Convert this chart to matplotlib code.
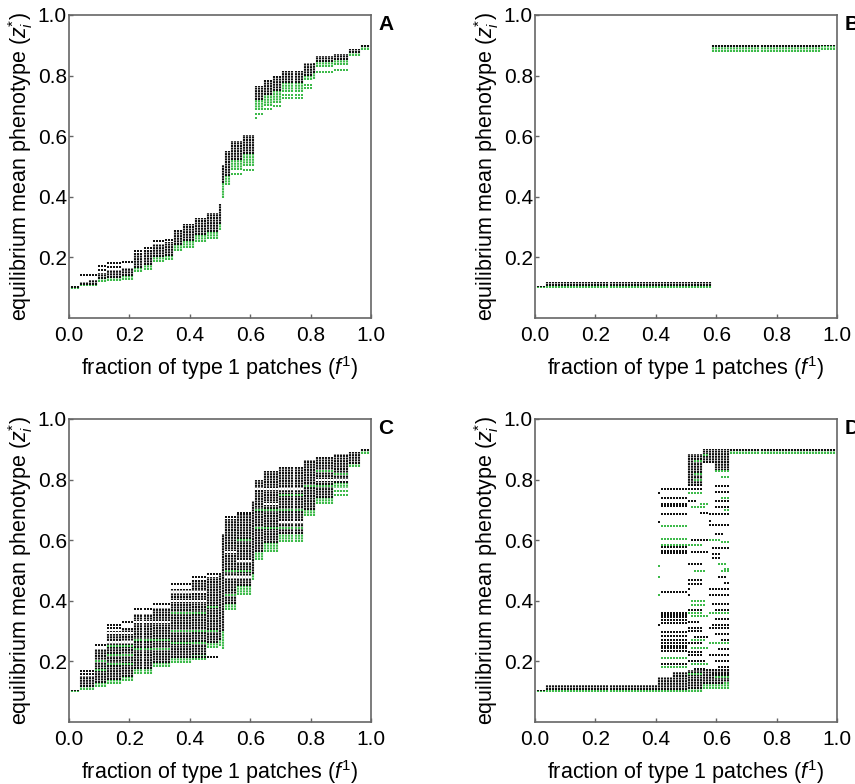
import numpy as np
import matplotlib
matplotlib.use("Agg")
import matplotlib.pyplot as plt

plt.rcParams['font.family'] = ['Liberation Sans', 'DejaVu Sans']
plt.rcParams['mathtext.fontset'] = 'custom'
plt.rcParams['mathtext.rm'] = 'Liberation Sans'
plt.rcParams['mathtext.it'] = 'Liberation Sans:italic'

BLACK = '#111111'
GREEN = '#3dba4a'
WHITE = '#ffffff'

# x categories: fraction of type 1 patches
F1 = np.round(np.arange(1, 100) / 100, 2)

# ---------------- Panel A ----------------
A_x0 = [0.01, 0.04, 0.07, 0.10, 0.13, 0.18, 0.22, 0.25, 0.28, 0.32, 0.35, 0.38, 0.42, 0.46, 0.50, 0.51, 0.52, 0.54, 0.58, 0.62, 0.65, 0.68, 0.71, 0.78, 0.81, 0.82, 0.88, 0.93, 0.97]
A_x1 = [0.03, 0.06, 0.09, 0.12, 0.17, 0.21, 0.24, 0.27, 0.31, 0.34, 0.37, 0.41, 0.45, 0.49, 0.50, 0.51, 0.53, 0.57, 0.61, 0.64, 0.67, 0.70, 0.77, 0.80, 0.81, 0.87, 0.92, 0.96, 0.99]
A_blo = [0.100, 0.108, 0.110, 0.128, 0.132, 0.138, 0.165, 0.175, 0.200, 0.205, 0.240, 0.255, 0.275, 0.285, 0.310, 0.445, 0.470, 0.520, 0.540, 0.720, 0.735, 0.750, 0.775, 0.800, 0.810, 0.845, 0.850, 0.875, 0.893]
A_bhi = [0.106, 0.118, 0.127, 0.150, 0.160, 0.165, 0.215, 0.225, 0.245, 0.250, 0.290, 0.310, 0.330, 0.345, 0.375, 0.505, 0.550, 0.585, 0.605, 0.765, 0.785, 0.800, 0.815, 0.840, 0.840, 0.865, 0.872, 0.887, 0.902]
A_glo = [0.097, 0.104, 0.106, 0.118, 0.122, 0.125, 0.152, 0.160, 0.185, 0.190, 0.220, 0.230, 0.250, 0.260, 0.290, 0.395, 0.440, 0.490, 0.500, 0.685, 0.700, 0.710, 0.745, 0.785, 0.790, 0.830, 0.835, 0.865, 0.885]
A_ghi = [0.101, 0.108, 0.111, 0.128, 0.132, 0.138, 0.168, 0.178, 0.200, 0.205, 0.240, 0.255, 0.275, 0.285, 0.310, 0.445, 0.470, 0.520, 0.540, 0.720, 0.735, 0.750, 0.775, 0.800, 0.810, 0.845, 0.850, 0.875, 0.893]
A_row_x0 = [0.04, 0.10, 0.10, 0.13, 0.13, 0.18, 0.22, 0.25, 0.28, 0.32, 0.54, 0.58, 0.62, 0.62, 0.65, 0.68, 0.71, 0.71, 0.78, 0.78, 0.82, 0.88]
A_row_x1 = [0.09, 0.12, 0.12, 0.17, 0.17, 0.21, 0.24, 0.27, 0.31, 0.34, 0.57, 0.61, 0.64, 0.62, 0.67, 0.70, 0.77, 0.77, 0.80, 0.80, 0.87, 0.92]
A_row_y = [0.141, 0.172, 0.158, 0.180, 0.168, 0.184, 0.222, 0.232, 0.255, 0.258, 0.475, 0.490, 0.672, 0.660, 0.690, 0.700, 0.735, 0.725, 0.770, 0.760, 0.812, 0.818]
A_row_c = ['k', 'k', 'k', 'k', 'k', 'k', 'k', 'k', 'k', 'k', 'g', 'g', 'g', 'g', 'g', 'g', 'g', 'g', 'g', 'g', 'g', 'g']

# ---------------- Panel B ----------------
B_x0 = [0.01, 0.04, 0.59, 0.95]
B_x1 = [0.03, 0.58, 0.94, 0.99]
B_blo = [0.101, 0.106, 0.896, 0.897]
B_bhi = [0.106, 0.120, 0.902, 0.902]
B_glo = [0.098, 0.099, 0.878, 0.886]
B_ghi = [0.101, 0.106, 0.896, 0.897]
B_row_x0, B_row_x1, B_row_y, B_row_c = [], [], [], []

# ---------------- Panel C ----------------
C_x0 = [0.01, 0.04, 0.09, 0.13, 0.18, 0.22, 0.28, 0.34, 0.41, 0.46, 0.50, 0.51, 0.52, 0.56, 0.61, 0.62, 0.65, 0.70, 0.78, 0.82, 0.88, 0.93, 0.97]
C_x1 = [0.03, 0.08, 0.12, 0.17, 0.21, 0.27, 0.33, 0.40, 0.45, 0.49, 0.50, 0.51, 0.55, 0.60, 0.61, 0.64, 0.69, 0.77, 0.81, 0.87, 0.92, 0.96, 0.99]
C_blo = [0.101, 0.115, 0.130, 0.140, 0.150, 0.175, 0.195, 0.210, 0.220, 0.260, 0.270, 0.300, 0.390, 0.450, 0.490, 0.560, 0.590, 0.620, 0.700, 0.740, 0.790, 0.850, 0.893]
C_bhi = [0.106, 0.152, 0.240, 0.300, 0.310, 0.355, 0.375, 0.440, 0.470, 0.480, 0.490, 0.620, 0.670, 0.685, 0.730, 0.800, 0.830, 0.840, 0.865, 0.875, 0.885, 0.890, 0.900]
C_glo = [0.098, 0.105, 0.115, 0.125, 0.135, 0.160, 0.180, 0.195, 0.205, 0.245, 0.250, 0.240, 0.370, 0.420, 0.470, 0.535, 0.560, 0.595, 0.680, 0.720, 0.760, 0.840, 0.885]
C_ghi = [0.101, 0.115, 0.130, 0.140, 0.150, 0.175, 0.195, 0.210, 0.220, 0.260, 0.270, 0.300, 0.390, 0.450, 0.490, 0.560, 0.590, 0.620, 0.700, 0.740, 0.790, 0.850, 0.893]
C_row_x0 = [0.04, 0.04, 0.09, 0.13, 0.13, 0.18, 0.22, 0.28, 0.34, 0.41, 0.46, 0.41, 0.52, 0.56,
            0.09, 0.09, 0.13, 0.13, 0.13, 0.22, 0.22, 0.34, 0.34, 0.34, 0.46, 0.46, 0.52, 0.52, 0.56, 0.62, 0.62, 0.70, 0.78, 0.82, 0.88, 0.88,
            0.13, 0.13, 0.22, 0.34, 0.34, 0.52, 0.52, 0.56, 0.62, 0.65, 0.70, 0.82, 0.88]
C_row_x1 = [0.08, 0.08, 0.12, 0.17, 0.17, 0.21, 0.27, 0.33, 0.40, 0.45, 0.50, 0.49, 0.55, 0.60,
            0.12, 0.12, 0.21, 0.21, 0.21, 0.33, 0.33, 0.45, 0.45, 0.45, 0.49, 0.49, 0.55, 0.60, 0.60, 0.77, 0.77, 0.77, 0.87, 0.87, 0.92, 0.92,
            0.21, 0.21, 0.33, 0.45, 0.45, 0.55, 0.60, 0.60, 0.77, 0.69, 0.77, 0.92, 0.92]
C_row_y = [0.168, 0.158, 0.255, 0.310, 0.320, 0.330, 0.372, 0.390, 0.455, 0.478, 0.487, 0.215, 0.675, 0.690,
           0.200, 0.170, 0.250, 0.220, 0.190, 0.270, 0.240, 0.300, 0.260, 0.360, 0.300, 0.380, 0.420, 0.500, 0.600, 0.640, 0.700, 0.750, 0.780, 0.830, 0.750, 0.820,
           0.295, 0.265, 0.330, 0.430, 0.400, 0.560, 0.480, 0.530, 0.770, 0.720, 0.660, 0.800, 0.770]
C_row_c = ['k'] * 14 + ['g'] * 22 + ['w'] * 13

# ---------------- Panel D ----------------
D_x0 = [0.01, 0.04, 0.41, 0.46, 0.51, 0.56, 0.51, 0.56, 0.60, 0.65]
D_x1 = [0.03, 0.40, 0.45, 0.50, 0.55, 0.64, 0.55, 0.64, 0.64, 0.99]
D_blo = [0.101, 0.105, 0.105, 0.105, 0.110, 0.125, 0.780, 0.855, 0.830, 0.893]
D_bhi = [0.106, 0.122, 0.150, 0.165, 0.170, 0.175, 0.885, 0.900, 0.860, 0.902]
D_glo = [0.098, 0.099, 0.099, 0.099, 0.100, 0.110, 0.780, 0.855, 0.830, 0.884]
D_ghi = [0.101, 0.105, 0.105, 0.105, 0.110, 0.125, 0.780, 0.855, 0.830, 0.893]
D_row_x0 = [0.42, 0.42, 0.42, 0.42, 0.42, 0.42, 0.42, 0.42, 0.42, 0.42, 0.42, 0.42, 0.42, 0.42, 0.42, 0.42, 0.42, 0.42, 0.42, 0.42, 0.42, 0.41, 0.41, 0.41, 0.41, 0.41, 0.41,
            0.42, 0.42, 0.42, 0.42, 0.42, 0.42,
            0.53, 0.53, 0.51, 0.51, 0.51, 0.55, 0.52, 0.55, 0.52, 0.51, 0.52, 0.51, 0.53, 0.51, 0.51, 0.52, 0.51, 0.51, 0.52, 0.51, 0.52, 0.51, 0.53, 0.51, 0.52,
            0.51, 0.51, 0.52, 0.51, 0.51, 0.52, 0.51, 0.51, 0.53, 0.51,
            0.60, 0.62, 0.60, 0.60, 0.63, 0.58, 0.60, 0.62, 0.59, 0.59, 0.61, 0.63, 0.61, 0.63, 0.59, 0.60, 0.60, 0.61, 0.60, 0.61, 0.60, 0.63, 0.53, 0.56,
            0.60, 0.60, 0.62, 0.58, 0.58, 0.58, 0.59, 0.62, 0.58, 0.58, 0.60, 0.58, 0.59, 0.58, 0.62, 0.58, 0.58, 0.59, 0.60]
D_row_x1 = [0.50, 0.50, 0.50, 0.50, 0.50, 0.50, 0.50, 0.50, 0.50, 0.50, 0.50, 0.50, 0.50, 0.50, 0.50, 0.50, 0.50, 0.50, 0.50, 0.50, 0.50, 0.41, 0.41, 0.41, 0.41, 0.41, 0.41,
            0.50, 0.50, 0.50, 0.50, 0.50, 0.50,
            0.55, 0.55, 0.55, 0.55, 0.53, 0.57, 0.56, 0.57, 0.57, 0.55, 0.57, 0.55, 0.56, 0.51, 0.51, 0.56, 0.55, 0.54, 0.57, 0.55, 0.57, 0.55, 0.57, 0.56, 0.57,
            0.55, 0.55, 0.56, 0.55, 0.55, 0.56, 0.55, 0.55, 0.56, 0.55,
            0.64, 0.64, 0.64, 0.64, 0.64, 0.58, 0.62, 0.64, 0.61, 0.61, 0.63, 0.64, 0.63, 0.64, 0.64, 0.64, 0.64, 0.64, 0.64, 0.64, 0.64, 0.64, 0.55, 0.57,
            0.64, 0.64, 0.64, 0.64, 0.64, 0.61, 0.64, 0.64, 0.64, 0.64, 0.64, 0.64, 0.64, 0.64, 0.64, 0.64, 0.64, 0.64, 0.64]
D_row_y = [0.770, 0.738, 0.718, 0.712, 0.685, 0.646, 0.605, 0.585, 0.578, 0.565, 0.558, 0.430, 0.360, 0.345, 0.337, 0.327, 0.297, 0.285, 0.250, 0.235, 0.210, 0.755, 0.660, 0.516, 0.480, 0.420, 0.320,
           0.353, 0.270, 0.262, 0.243, 0.190, 0.180,
           0.820, 0.800, 0.770, 0.755, 0.730, 0.720, 0.710, 0.690, 0.600, 0.585, 0.560, 0.520, 0.500, 0.440, 0.420, 0.385, 0.360, 0.330, 0.350, 0.300, 0.245, 0.220, 0.280, 0.200, 0.190,
           0.470, 0.455, 0.400, 0.370, 0.310, 0.270, 0.260, 0.230, 0.175, 0.160,
           0.830, 0.810, 0.730, 0.710, 0.700, 0.665, 0.620, 0.595, 0.555, 0.540, 0.520, 0.505, 0.480, 0.460, 0.390, 0.340, 0.290, 0.240, 0.200, 0.180, 0.170, 0.130, 0.860, 0.880,
           0.780, 0.760, 0.740, 0.685, 0.650, 0.600, 0.575, 0.500, 0.440, 0.420, 0.370, 0.360, 0.320, 0.310, 0.270, 0.260, 0.220, 0.160, 0.150]
D_row_c = ['k', 'k', 'k', 'k', 'k', 'g', 'g', 'g', 'k', 'k', 'k', 'k', 'k', 'k', 'k', 'k', 'k', 'k', 'k', 'k', 'g', 'k', 'k', 'g', 'g', 'g', 'k',
           'k', 'k', 'k', 'k', 'k', 'g',
           'g', 'g', 'k', 'g', 'k', 'g', 'g', 'k', 'k', 'g', 'k', 'k', 'g', 'k', 'k', 'g', 'g', 'k', 'g', 'k', 'g', 'k', 'k', 'k', 'g',
           'k', 'k', 'g', 'k', 'k', 'g', 'k', 'k', 'k', 'g',
           'g', 'g', 'k', 'k', 'g', 'k', 'k', 'g', 'k', 'k', 'g', 'g', 'k', 'k', 'k', 'k', 'k', 'k', 'k', 'k', 'k', 'g', 'g', 'g',
           'k', 'k', 'g', 'k', 'k', 'g', 'k', 'g', 'k', 'k', 'k', 'g', 'k', 'k', 'k', 'g', 'k', 'k', 'g']

COLORS = {'k': BLACK, 'g': GREEN, 'w': WHITE}
DOTS = (0, (1.0, 0.25))


def draw_panel(ax, x0, x1, blo, bhi, glo, ghi, rx0, rx1, ry, rc):
    for s, e, a, b, c, d in zip(x0, x1, blo, bhi, glo, ghi):
        xs = F1[(F1 >= s - 1e-9) & (F1 <= e + 1e-9)]
        if d > c:
            ax.vlines(xs, c, d, colors=GREEN, linewidth=1.5, linestyles=DOTS)
        ax.vlines(xs, a, b, colors=BLACK, linewidth=1.5, linestyles=DOTS)
    for s, e, y, c in zip(rx0, rx1, ry, rc):
        xs = F1[(F1 >= s - 1e-9) & (F1 <= e + 1e-9)]
        ax.scatter(xs, np.full(len(xs), y), s=3.2, marker='s', color=COLORS[c], linewidths=0, zorder=3)


fig = plt.figure(figsize=(8.55, 7.84), dpi=100)
W = 302 / 855
H = 303 / 784
positions = {
    'A': [69 / 855, 1 - 318 / 784, W, H],
    'B': [535 / 855, 1 - 318 / 784, W, H],
    'C': [69 / 855, 1 - 722 / 784, W, H],
    'D': [535 / 855, 1 - 722 / 784, W, H],
}
data = {
    'A': (A_x0, A_x1, A_blo, A_bhi, A_glo, A_ghi, A_row_x0, A_row_x1, A_row_y, A_row_c),
    'B': (B_x0, B_x1, B_blo, B_bhi, B_glo, B_ghi, B_row_x0, B_row_x1, B_row_y, B_row_c),
    'C': (C_x0, C_x1, C_blo, C_bhi, C_glo, C_ghi, C_row_x0, C_row_x1, C_row_y, C_row_c),
    'D': (D_x0, D_x1, D_blo, D_bhi, D_glo, D_ghi, D_row_x0, D_row_x1, D_row_y, D_row_c),
}

for key in ['A', 'B', 'C', 'D']:
    ax = fig.add_axes(positions[key])
    draw_panel(ax, *data[key])
    ax.set_xlim(0, 1)
    ax.set_ylim(0, 1)
    ax.set_xticks([0.0, 0.2, 0.4, 0.6, 0.8, 1.0])
    ax.set_xticklabels(['0.0', '0.2', '0.4', '0.6', '0.8', '1.0'])
    ax.set_yticks([0.2, 0.4, 0.6, 0.8, 1.0])
    ax.set_yticklabels(['0.2', '0.4', '0.6', '0.8', '1.0'])
    ax.tick_params(direction='in', length=3, width=1, color='#666666', labelsize=15)
    ax.tick_params(axis='x', pad=6)
    ax.tick_params(axis='y', pad=1.5)
    for sp in ax.spines.values():
        sp.set_color('#666666')
        sp.set_linewidth(1.2)
    ax.set_xlabel(r'fraction of type 1 patches ($f^1$)', fontsize=15.5, labelpad=6)
    ax.set_ylabel(r'equilibrium mean phenotype ($z_i^{*}$)', fontsize=15.5, labelpad=2)
    ax.text(1.025, 0.967, key, transform=ax.transAxes, fontsize=15, fontweight='bold',
            ha='left', va='center', clip_on=False)

fig.savefig('out.png', dpi=100)
